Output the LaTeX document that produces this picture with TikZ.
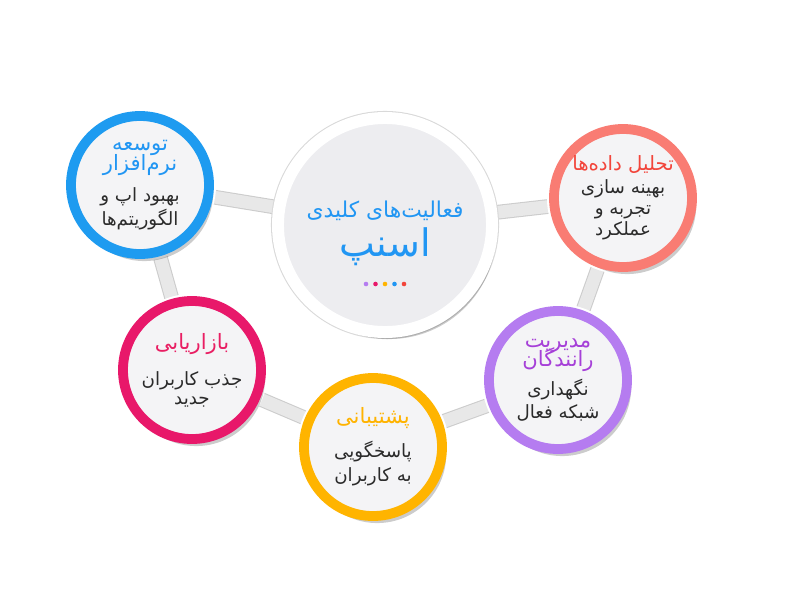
\documentclass[tikz,border=0pt]{standalone}
\usepackage{fontspec}
\usetikzlibrary{shadows,calc}
\newfontfamily\farsi[Script=Arabic]{DejaVu Sans}
\TeXXeTstate=1
\pgfdeclarelayer{background}
\pgfsetlayers{background,main}

\definecolor{devblue}{HTML}{1E9BF0}
\definecolor{datared}{HTML}{F97C73}
\definecolor{drvpurple}{HTML}{B57CF0}
\definecolor{supyellow}{HTML}{FFB400}
\definecolor{mktpink}{HTML}{E8186A}
\definecolor{ttlblue}{HTML}{2196F3}
\definecolor{ttlred}{HTML}{F2453B}
\definecolor{ttlpurple}{HTML}{A640D8}
\definecolor{ttlyellow}{HTML}{FFB300}
\definecolor{ttlpink}{HTML}{E91E63}
\definecolor{bodygray}{HTML}{2B2B2B}
\definecolor{discgray}{HTML}{F4F4F6}
\definecolor{hubgray}{HTML}{EDEDF0}

\newcommand\fatxt[1]{\beginR#1\endR}
\newcommand\ttl[3][15]{\textcolor{#2}{\fontsize{#1}{15}\selectfont\beginR#3\endR}}

\begin{document}
\begin{tikzpicture}[
    x=0.025cm, y=-0.025cm,
    hub/.style={
        circle,
        minimum size=5.35cm,
        fill=hubgray,
        draw=white,
        line width=8.5pt,
        preaction={draw=black!15, line width=10pt},
        drop shadow={shadow xshift=3pt, shadow yshift=-5pt, opacity=.2, fill=black},
        font=\farsi\fontsize{15.5}{28}\selectfont,
        align=center
    },
    act/.style={
        circle,
        minimum size=3.45cm,
        fill=discgray,
        draw=#1,
        line width=7pt,
        preaction={draw=white, line width=10pt},
        drop shadow={shadow xshift=3pt, shadow yshift=-5pt, opacity=.2, fill=black},
        text=bodygray,
        font=\farsi\fontsize{13}{17}\selectfont,
        align=center,
        inner sep=0pt
    },
    bar/.style={
        line width=9pt,
        draw=black!9,
        preaction={draw=black!20, line width=10.5pt}
    }
    ]

    \useasboundingbox (0,0) rectangle (800,600);

    \node[hub] (hub) at (385,225) {\rule{0pt}{24pt}\textcolor{ttlblue}{\fatxt{فعالیت‌های کلیدی}}\\
        \textcolor{ttlblue}{\fontsize{27}{28}\selectfont\fatxt{اسنپ}}};
    \node[act=devblue] (dev) at (140,185) {\ttl{ttlblue}{توسعه}\\[-3pt]\ttl{ttlblue}{نرم‌افزار}\\[5pt]
        \fatxt{بهبود اپ و}\\\fatxt{الگوریتم‌ها}};
    \node[act=datared] (data) at (623,198) {\ttl[14]{ttlred}{تحلیل داده‌ها}\\[-1pt]
        \fatxt{بهینه سازی}\\[-2pt]\fatxt{تجربه و}\\[-2pt]\fatxt{عملکرد}};
    \node[act=drvpurple] (drv) at (558,380) {\ttl{ttlpurple}{مدیریت}\\[-4pt]\ttl{ttlpurple}{رانندگان}\\[3pt]
        \fatxt{نگهداری}\\\fatxt{شبکه فعال}};
    \node[act=supyellow] (sup) at (373,447) {\ttl{ttlyellow}{پشتیبانی}\\[7pt]
        \fatxt{پاسخگویی}\\\fatxt{به کاربران}};
    \node[act=mktpink] (mkt) at (192,370) {\ttl{ttlpink}{بازاریابی}\\[9pt]
        \fatxt{جذب کاربران}\\[-4pt]\fatxt{جدید}};

    % colour dots under the title
    \foreach \c [count=\i] in {drvpurple,mktpink,supyellow,ttlblue,ttlred}
        \fill[\c] ($(hub)+(\i*9.5-28.5,59)$) circle (2.3);

    \begin{pgfonlayer}{background}
        \foreach \src/ \dst in {dev/hub, hub/data, data/drv, drv/sup, sup/mkt, mkt/dev}
            \draw[bar] (\src) -- (\dst);
    \end{pgfonlayer}
\end{tikzpicture}
\end{document}
